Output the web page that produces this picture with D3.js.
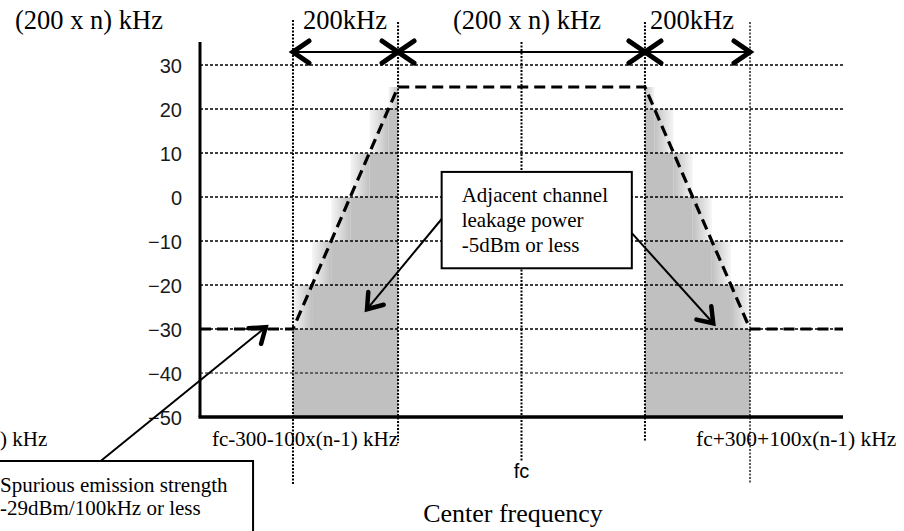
<!DOCTYPE html>
<html><head><meta charset="utf-8">
<script src="https://cdn.jsdelivr.net/npm/d3@7"></script>
<style>
html,body{margin:0;padding:0;background:#fff;}
svg{display:block;}
.serif{font-family:"Liberation Serif","Times New Roman",serif;fill:#000;}
.sans{font-family:"Liberation Sans",Arial,sans-serif;fill:#000;}
</style></head>
<body>
<svg id="c" width="904" height="531"></svg>
<script>
// ---- data ----
const yTicks = [30, 20, 10, 0, -10, -20, -30, -40, -50];
const gridLevels = [30, 20, 10, 0, -10, -20, -30, -40];
const maskFreq = [-612, -435, -235, 235, 435, 612];      // kHz offset from fc
const maskLevel = [-30, -30, 25, 25, -30, -30];           // dBm
const bandEdges = [-30, -20, -10, 0, 10, 20, 25];
const markerFreqs = [-435, -235, 0, 235, 435];
const spanFreqs = [[-435, -235], [-235, 235], [235, 435]];
const spanLabels = ["200kHz", "(200 x n) kHz", "200kHz"];
const boxLines = ["Adjacent channel", "leakage power", "-5dBm or less"];
const spurLines = ["Spurious emission strength", "-29dBm/100kHz or less"];

const svg = d3.select("#c");
const x = d3.scaleLinear().domain([-612, 612]).range([200, 843]);
const y = d3.scaleLinear().domain([-50, 30]).range([417, 65]);

// gradients
const defs = svg.append("defs");
const gL = defs.append("linearGradient").attr("id", "gL").attr("x1", 0).attr("x2", 1).attr("y1", 0).attr("y2", 0);
gL.append("stop").attr("offset", 0).attr("stop-color", "#f6f6f6");
gL.append("stop").attr("offset", 1).attr("stop-color", "#c0c0c0");
const gR = defs.append("linearGradient").attr("id", "gR").attr("x1", 0).attr("x2", 1).attr("y1", 0).attr("y2", 0);
gR.append("stop").attr("offset", 0).attr("stop-color", "#c0c0c0");
gR.append("stop").attr("offset", 1).attr("stop-color", "#f6f6f6");

// shaded skirts
const skirts = [
  {outer: maskFreq[1], inner: maskFreq[2], grad: "url(#gL)"},
  {outer: maskFreq[4], inner: maskFreq[3], grad: "url(#gR)"}
];
const shade = svg.append("g");
skirts.forEach(s => {
  const f = d3.scaleLinear().domain([maskLevel[1], maskLevel[2]]).range([s.outer, s.inner]);
  const x0 = Math.min(x(s.outer), x(s.inner)), x1 = Math.max(x(s.outer), x(s.inner));
  shade.append("rect").attr("x", x0).attr("width", x1 - x0)
    .attr("y", y(maskLevel[1])).attr("height", y(-50) - y(maskLevel[1])).attr("fill", "#c0c0c0");
  for (let i = 0; i < bandEdges.length - 1; i++) {
    const lo = bandEdges[i], hi = bandEdges[i + 1];
    const xa = x(f(lo)), xb = x(f(hi)), xi = x(s.inner);
    shade.append("rect").attr("x", Math.min(xa, xb)).attr("width", Math.abs(xb - xa))
      .attr("y", y(hi)).attr("height", y(lo) - y(hi)).attr("fill", s.grad);
    shade.append("rect").attr("x", Math.min(xb, xi)).attr("width", Math.abs(xi - xb))
      .attr("y", y(hi)).attr("height", y(lo) - y(hi)).attr("fill", "#c0c0c0");
  }
});

// horizontal grid
svg.append("g").selectAll("line").data(gridLevels).join("line")
  .attr("x1", x(-612)).attr("x2", x(612))
  .attr("y1", d => y(d)).attr("y2", d => y(d))
  .attr("stroke", "#000").attr("stroke-width", d => d === -40 ? 1 : 1.5)
  .attr("stroke-dasharray", "3,2");

// vertical marker lines
const vExt = {"-435": [20, 484], "-235": [22, 443], "0": [42, 462], "235": [22, 442], "435": [22, 484]};
svg.append("g").selectAll("line").data(markerFreqs).join("line")
  .attr("x1", d => x(d)).attr("x2", d => x(d))
  .attr("y1", d => vExt[d][0]).attr("y2", d => vExt[d][1])
  .attr("stroke", "#000").attr("stroke-width", d => d === 435 ? 1.3 : 2)
  .attr("stroke-dasharray", "2,1.5");

// mask line
const maskLine = d3.line().x((d, i) => x(maskFreq[i])).y(d => y(d));
svg.append("path").datum(maskLevel).attr("d", maskLine)
  .attr("fill", "none").attr("stroke", "#000").attr("stroke-width", 3.2)
  .attr("stroke-dasharray", "11,6");

// axes
svg.append("line").attr("x1", x(-612)).attr("x2", x(-612)).attr("y1", 42).attr("y2", y(-50))
  .attr("stroke", "#000").attr("stroke-width", 3);
svg.append("line").attr("x1", x(-612) - 1.5).attr("x2", x(612)).attr("y1", y(-50)).attr("y2", y(-50))
  .attr("stroke", "#000").attr("stroke-width", 3.5);

const ya = svg.append("g").attr("transform", `translate(${x(-612)},0)`)
  .call(d3.axisLeft(y).tickValues(yTicks).tickSize(0).tickPadding(18)
    .tickFormat(d => d < 0 ? "\u2212" + Math.abs(d) : String(d)));
ya.select(".domain").remove();
ya.attr("font-family", "Liberation Sans, Arial, sans-serif").attr("font-size", 20);
ya.selectAll("text").attr("fill", "#1a1a1a").attr("dy", "0.38em");

// chevron helper
function chevron(g, tx, ty, ang, len, half, w) {
  const c = Math.cos(ang), s = Math.sin(ang);
  const bx = tx - c * len, by = ty - s * len;
  const px = -s * half, py = c * half;
  g.append("path").attr("d", `M${bx + px},${by + py}L${tx},${ty}L${bx - px},${by - py}`)
    .attr("fill", "none").attr("stroke", "#000").attr("stroke-width", w)
    .attr("stroke-linecap", "round").attr("stroke-linejoin", "miter");
}
function arrow(g, x0, y0, x1, y1) {
  g.append("line").attr("x1", x0).attr("y1", y0).attr("x2", x1).attr("y2", y1)
    .attr("stroke", "#000").attr("stroke-width", 2);
  chevron(g, x1, y1, Math.atan2(y1 - y0, x1 - x0), 14, 10, 4.5);
}

// top span arrows
const ay = 52;
const spanG = svg.append("g");
spanFreqs.forEach(([a, b]) => {
  spanG.append("line").attr("x1", x(a)).attr("x2", x(b)).attr("y1", ay).attr("y2", ay)
    .attr("stroke", "#000").attr("stroke-width", 2.2);
  chevron(spanG, x(a), ay, Math.PI, 16, 11, 5);
  chevron(spanG, x(b), ay, 0, 16, 11, 5);
});
// span labels
const labelX = [345, 527, 692];
spanLabels.forEach((t, i) => {
  svg.append("text").attr("class", "serif").attr("x", labelX[i]).attr("y", 29)
    .attr("text-anchor", "middle").attr("font-size", 26.5).text(t);
});
svg.append("text").attr("class", "serif").attr("x", 15).attr("y", 29)
  .attr("font-size", 26.5).text("(200 x n) kHz");

// adjacent channel box
const box = {f0: -152, l0: 5.7, f1: 210, l1: -16.2};
svg.append("rect").attr("x", x(box.f0)).attr("y", y(box.l0))
  .attr("width", x(box.f1) - x(box.f0)).attr("height", y(box.l1) - y(box.l0))
  .attr("fill", "#fff").attr("stroke", "#000").attr("stroke-width", 2);
boxLines.forEach((t, i) => {
  svg.append("text").attr("class", "serif").attr("x", x(box.f0) + 20).attr("y", y(box.l0) + 30 + i * 25)
    .attr("font-size", 21).text(t);
});
const ann = svg.append("g");
arrow(ann, x(box.f0), y(-5), x(-294), y(-25.5));
arrow(ann, x(box.f1), y(-8.2), x(365), y(-28.7));

// spurious box
const sb = {f0: -1010, l0: -60, f1: -511};
svg.append("rect").attr("x", x(sb.f0)).attr("y", y(sb.l0))
  .attr("width", x(sb.f1) - x(sb.f0)).attr("height", 100)
  .attr("fill", "#fff").attr("stroke", "#000").attr("stroke-width", 2);
spurLines.forEach((t, i) => {
  svg.append("text").attr("class", "serif").attr("x", 0).attr("y", y(sb.l0) + 31 + i * 23)
    .attr("font-size", 21).text(t);
});
arrow(ann, x(-801), y(-60), x(-487), y(-29.6));

// frequency labels
svg.append("text").attr("class", "serif").attr("x", 0).attr("y", 446).attr("font-size", 21).text(") kHz");
svg.append("text").attr("class", "serif").attr("x", x(-435) - 81).attr("y", 446).attr("font-size", 21).text("fc-300-100x(n-1) kHz");
svg.append("text").attr("class", "serif").attr("x", x(435) - 54).attr("y", 446).attr("font-size", 21.5).text("fc+300+100x(n-1) kHz");
svg.append("text").attr("class", "sans").attr("x", x(0)).attr("y", 478).attr("text-anchor", "middle")
  .attr("font-size", 20).text("fc");
svg.append("text").attr("class", "serif").attr("x", 513).attr("y", 522).attr("text-anchor", "middle")
  .attr("font-size", 26).text("Center frequency");
</script>
</body></html>
